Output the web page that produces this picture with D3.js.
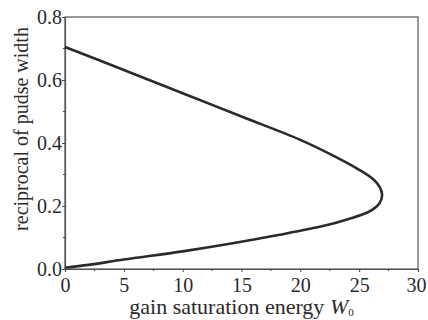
<!DOCTYPE html>
<html>
<head>
<meta charset="utf-8">
<script src="https://cdn.jsdelivr.net/npm/d3@7"></script>
<style>
  body { margin: 0; background: #fff; }
</style>
</head>
<body>
<div id="chart"></div>
<script>
// gain saturation energy W0 (x) vs reciprocal of pulse width (y), one closed-ish curve
const energy = [0, 5, 10, 15, 20, 23, 25, 26.2, 26.75, 26.95, 26.75, 26.2, 25.5, 24.2, 22, 18, 14, 10, 5, 2, 0];
const recip  = [0.705, 0.632, 0.558, 0.484, 0.41, 0.356, 0.315, 0.285, 0.26, 0.236, 0.21, 0.19, 0.176, 0.16, 0.137, 0.107, 0.08, 0.056, 0.03, 0.013, 0.004];

const xTicks = [0, 5, 10, 15, 20, 25, 30];
const yTicks = [0.0, 0.2, 0.4, 0.6, 0.8];
const xMinor = [2.5, 7.5, 12.5, 17.5, 22.5, 27.5];
const yMinor = [0.1, 0.3, 0.5, 0.7];

const SERIF = '"Liberation Serif", "DejaVu Serif", serif';

const cfg = {
  width: 428,
  height: 320,
  margin: { left: 65, right: 10, top: 17, bottom: 51 }
};

const xScale = d3.scaleLinear([0, 30], [cfg.margin.left, cfg.width - cfg.margin.right]);
const yScale = d3.scaleLinear([0, 0.8], [cfg.height - cfg.margin.bottom, cfg.margin.top]);

const svg = d3.select("#chart")
  .append("svg")
  .attr("width", cfg.width)
  .attr("height", cfg.height)
  .style("font-family", SERIF);

// frame
svg.append("rect")
  .attr("x", xScale(0))
  .attr("y", yScale(0.8))
  .attr("width", xScale(30) - xScale(0))
  .attr("height", yScale(0) - yScale(0.8))
  .attr("fill", "none")
  .attr("stroke", "#555")
  .attr("stroke-width", 1.2);

// axes
const xAxis = d3.axisBottom(xScale).tickValues(xTicks).tickSize(3).tickPadding(6).tickFormat(d3.format("d"));
const yAxis = d3.axisLeft(yScale).tickValues(yTicks).tickSize(3).tickPadding(0).tickFormat(d3.format(".1f"));

const gx = svg.append("g")
  .attr("class", "x-axis")
  .attr("transform", `translate(0, ${yScale(0)})`)
  .call(xAxis);

const gy = svg.append("g")
  .attr("class", "y-axis")
  .attr("transform", `translate(${xScale(0)}, 0)`)
  .call(yAxis);

[gx, gy].forEach(g => {
  g.attr("font-family", SERIF);
  g.select(".domain").attr("stroke", "#555").attr("stroke-width", 1.2);
  g.selectAll(".tick line").attr("stroke", "#444");
  g.selectAll(".tick text")
    .style("font-family", SERIF)
    .style("font-size", "20px")
    .attr("fill", "#2a2a2a");
});

// last x label would run off the page otherwise
gx.selectAll(".tick text").filter(d => d === 30).attr("dx", -2);

// minor ticks
svg.append("g")
  .selectAll("line")
  .data(xMinor)
  .join("line")
  .attr("x1", d => xScale(d))
  .attr("x2", d => xScale(d))
  .attr("y1", yScale(0))
  .attr("y2", yScale(0) + 2)
  .attr("stroke", "#444");

svg.append("g")
  .selectAll("line")
  .data(yMinor)
  .join("line")
  .attr("x1", xScale(0))
  .attr("x2", xScale(0) - 2)
  .attr("y1", d => yScale(d))
  .attr("y2", d => yScale(d))
  .attr("stroke", "#444");

// the curve
const pts = energy.map((w, i) => [w, recip[i]]);
const line = d3.line()
  .x(d => xScale(d[0]))
  .y(d => yScale(d[1]))
  .curve(d3.curveCatmullRom);

svg.append("path")
  .datum(pts)
  .attr("d", line)
  .attr("fill", "none")
  .attr("stroke", "#2a2a2a")
  .attr("stroke-width", 2.6);

// axis titles
const xt = svg.append("text")
  .attr("x", (xScale(0) + xScale(30)) / 2)
  .attr("y", 314)
  .attr("text-anchor", "middle")
  .attr("fill", "#2a2a2a")
  .style("font-size", "22px");
xt.append("tspan").text("gain saturation energy ");
xt.append("tspan").attr("font-style", "italic").text("W");
xt.append("tspan").attr("dy", 2).style("font-size", "11px").text("0");

svg.append("text")
  .attr("transform", "translate(28, 129) rotate(-90)")
  .attr("text-anchor", "middle")
  .attr("fill", "#2a2a2a")
  .style("font-size", "20px")
  .text("reciprocal of pudse width");
</script>
</body>
</html>
